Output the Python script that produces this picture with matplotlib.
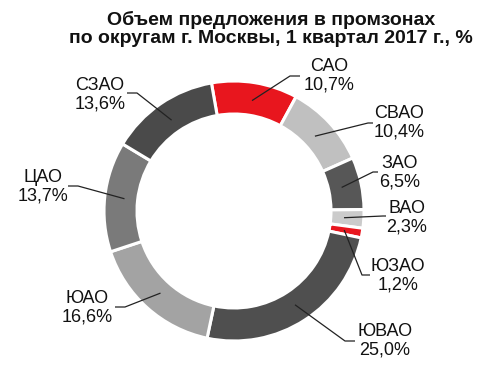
import matplotlib
matplotlib.use("Agg")
import matplotlib.pyplot as plt
import numpy as np

plt.rcParams['font.family'] = ['Liberation Sans', 'DejaVu Sans']

categories = ["САО", "СВАО", "ЗАО", "ВАО", "ЮЗАО", "ЮВАО", "ЮАО", "ЦАО", "СЗАО"]
values = [10.7, 10.4, 6.5, 2.3, 1.2, 25.0, 16.6, 13.7, 13.6]
labels = ["10,7%", "10,4%", "6,5%", "2,3%", "1,2%", "25,0%", "16,6%", "13,7%", "13,6%"]
colors = ["#e8161e", "#c0c0c0", "#575757", "#cbcbcb", "#e8161e",
          "#4f4f4f", "#a3a3a3", "#7a7a7a", "#4a4a4a"]

W, H = 491, 372
fig = plt.figure(figsize=(W / 100, H / 100), dpi=100)
ax = fig.add_axes([0, 0, 1, 1])

cx, cy, R = 234, H - 211, 130
wedges, _ = ax.pie(values, colors=colors, startangle=100, counterclock=False,
                   radius=R, center=(cx, cy), frame=True,
                   wedgeprops=dict(width=33, edgecolor='white', linewidth=2.2))
ax.set_xlim(0, W)
ax.set_ylim(0, H)
ax.set_aspect('equal')
ax.axis('off')

# label text centres and leader elbow/end points (pixel coords, y from top)
text_pos = [(329, 76), (399, 123), (400, 173), (407, 218), (398, 276),
            (385, 341), (87, 308), (43, 187), (100, 95)]
elbows = [(290, 76), (368, 123), (373, 172), (383, 216), (362, 275),
          (345, 341), (125, 307), (78, 186), (137, 93)]
ends = [(300, 76), (373, 123), (378, 172), (386, 216), (370, 275),
        (355, 341), (115, 307), (68, 186), (127, 93)]
anchor_r = [0.55, 0.6, 0.6, 0.6, 0.55, 0.55, 0.6, 0.6, 0.6]

for w, lab, cat, tp, el, en, ar in zip(wedges, labels, categories, text_pos,
                                       elbows, ends, anchor_r):
    ang = np.deg2rad((w.theta1 + w.theta2) / 2)
    rr = R - 33 * ar
    ax0, ay0 = cx + rr * np.cos(ang), cy + rr * np.sin(ang)
    ax.plot([ax0, el[0], en[0]], [ay0, H - el[1], H - en[1]],
            color='#222222', lw=0.9, solid_capstyle='butt')
    ax.text(tp[0], H - tp[1], f"{cat}\n{lab}", ha='center', va='center',
            fontsize=13, color='#111111', linespacing=1.08)

ax.text(271, H - 29, "Объем предложения в промзонах\nпо округам г. Москвы, 1 квартал 2017 г., %",
        ha='center', va='center', fontsize=14, fontweight='bold',
        color='#111111', linespacing=1.1)

fig.savefig("out.png", dpi=100)
